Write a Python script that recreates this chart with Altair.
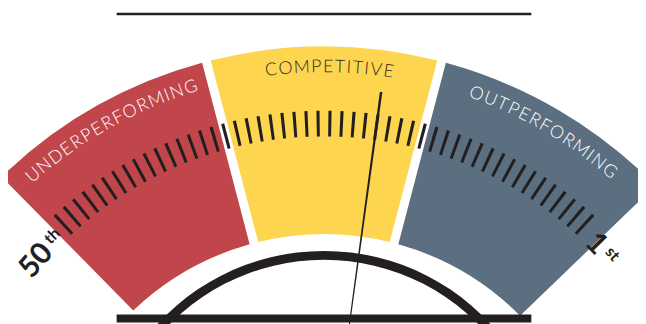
import math
import altair as alt
import pandas as pd

# ---------------- data ----------------
segments = ["UNDERPERFORMING", "COMPETITIVE", "OUTPERFORMING"]
seg_start = [51.3, 34.0, 17.0]      # rank where each band starts (50th side)
seg_end = [34.0, 17.0, -1.2]        # rank where each band ends (1st side)
seg_colors = ["#C0464B", "#FDD54F", "#5B6F81"]
label_colors = ["#FFFFFF", "#2E2A26", "#FFFFFF"]
label_rank = [42.4, 25.1, 8.1]      # rank at the centre of each band label
ranks = list(range(50, 0, -1))      # 50th ... 1st
needle_rank = [21.0]
end_text = ["50", "1"]
end_sup = ["th", "st"]
end_rank = [53.9, -0.9]
end_sup_rank = [51.4, -2.5]

# ---------------- geometry / style ----------------
CX, CY = 320, 507
R_OUT, R_IN = 470, 280
TICK_IN, TICK_OUT = 379, 405
LABEL_R = 449
DIAL_CY = 473
DEG_SPAN = 42.3
DEG_PER_RANK = 2 * DEG_SPAN / 49.0
FONT = "Lato"

theta_scale = alt.Scale(domain=[50, 1], range=[-math.radians(DEG_SPAN), math.radians(DEG_SPAN)],
                        nice=False, zero=False)


def rank_to_deg(r):
    return (25.5 - r) * DEG_PER_RANK


# approximate cap widths (em) for laying letters along the arc
CW = {"A": .66, "C": .68, "D": .74, "E": .57, "F": .53, "G": .74, "I": .26, "M": .86,
      "N": .75, "O": .8, "P": .6, "R": .63, "T": .58, "U": .72, "V": .66}
FS = 18
SPACING = 1.5

rows = []
for name, lr, col in zip(segments, label_rank, label_colors):
    widths = [CW.get(c, .65) * FS + SPACING for c in name]
    total = sum(widths)
    acc = -total / 2
    centre_deg = rank_to_deg(lr)
    for ch, w in zip(name, widths):
        off = acc + w / 2
        acc += w
        deg = centre_deg + math.degrees(off / LABEL_R)
        rows.append({"ch": ch, "pos": 25.5 - deg / DEG_PER_RANK, "rot": deg % 360, "color": col})
chars = pd.DataFrame(rows)

seg_df = pd.DataFrame({"seg": segments, "start": seg_start, "end": seg_end, "color": seg_colors})
tick_df = pd.DataFrame({"rank": ranks})
tick_df["t0"] = tick_df["rank"] + 0.13
tick_df["t1"] = tick_df["rank"] - 0.13
needle_df = pd.DataFrame({"rank": needle_rank})
needle_df["t0"] = needle_df["rank"] + 0.1
needle_df["t1"] = needle_df["rank"] - 0.1

end_df = pd.DataFrame({"txt": end_text, "pos": end_rank})
end_df["rot"] = [rank_to_deg(p) % 360 for p in end_rank]
sup_df = pd.DataFrame({"txt": end_sup, "pos": end_sup_rank})
sup_df["rot"] = [rank_to_deg(p) % 360 for p in end_sup_rank]

INK = "#231F20"
cx = alt.value(CX)
cy = alt.value(CY)

bands = alt.Chart(seg_df).mark_arc(radius=R_OUT, radius2=R_IN, padAngle=0.0165).encode(
    x=cx, y=cy,
    theta=alt.Theta("start:Q", scale=theta_scale, stack=None),
    theta2="end:Q",
    color=alt.Color("color:N", scale=None),
)

ticks = alt.Chart(tick_df).mark_arc(radius=TICK_OUT, radius2=TICK_IN, color=INK).encode(
    x=cx, y=cy,
    theta=alt.Theta("t0:Q", scale=theta_scale, stack=None),
    theta2="t1:Q",
)

dial = alt.Chart(seg_df.head(1)).mark_arc(radius=229, radius2=220, color=INK).encode(
    x=cx, y=alt.value(DIAL_CY),
    theta=alt.value(2 * math.pi - 0.95),
    theta2=alt.value(2 * math.pi + 0.95),
)

needle = alt.Chart(needle_df).mark_arc(radius=428, radius2=185, color=INK).encode(
    x=cx, y=cy,
    theta=alt.Theta("t0:Q", scale=theta_scale, stack=None),
    theta2="t1:Q",
)

bottom_line = alt.Chart(seg_df.head(1)).mark_rule(color=INK, strokeWidth=8).encode(
    x=alt.value(110), x2=alt.value(530), y=alt.value(312.5)
)
top_line = alt.Chart(seg_df.head(1)).mark_rule(color=INK, strokeWidth=2.5).encode(
    x=alt.value(110), x2=alt.value(530), y=alt.value(4)
)

labels = alt.Chart(chars).mark_text(font=FONT, fontSize=FS, fontWeight=300, align="center",
                                     baseline="middle").encode(
    x=cx, y=cy,
    theta=alt.Theta("pos:Q", scale=theta_scale, stack=None),
    radius=alt.value(LABEL_R),
    angle=alt.Angle("rot:Q", scale=None),
    text="ch:N",
    color=alt.Color("color:N", scale=None),
)

ends = alt.Chart(end_df).mark_text(font=FONT, fontSize=30, fontWeight=700, align="center",
                                   baseline="middle", color=INK).encode(
    x=cx, y=cy,
    theta=alt.Theta("pos:Q", scale=theta_scale, stack=None),
    radius=alt.value(386),
    angle=alt.Angle("rot:Q", scale=None),
    text="txt:N",
)

sups = alt.Chart(sup_df).mark_text(font=FONT, fontSize=16, fontWeight=700, align="center",
                                   baseline="middle", color=INK).encode(
    x=cx, y=cy,
    theta=alt.Theta("pos:Q", scale=theta_scale, stack=None),
    radius=alt.value(391),
    angle=alt.Angle("rot:Q", scale=None),
    text="txt:N",
)

chart = alt.layer(bands, ticks, dial, needle, bottom_line, top_line, labels, ends, sups).properties(
    width=638, height=316, autosize=alt.AutoSizeParams(type="none"), padding=0,
    background="#FFFFFF",
).configure_view(stroke=None)

chart.save("out.html", embed_options={"renderer": "svg", "actions": False})
